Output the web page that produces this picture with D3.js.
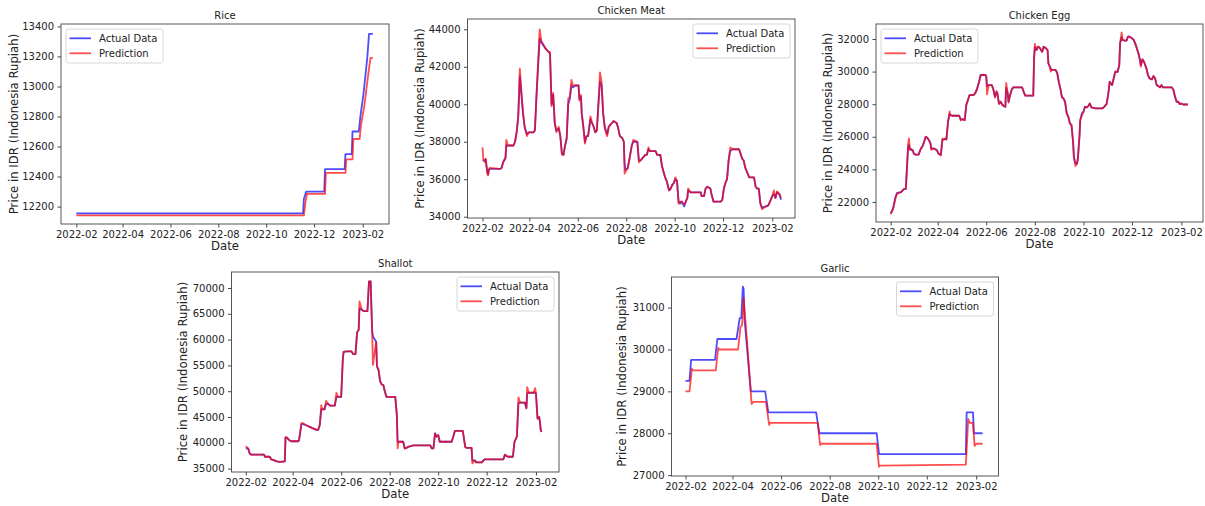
<!DOCTYPE html>
<html>
<head>
<meta charset="utf-8">
<script src="https://cdn.jsdelivr.net/npm/d3@7"></script>
<style>
  body { margin: 0; background: #fff; }
  svg { display: block; font-family: "DejaVu Sans", sans-serif; }
  .tick text { font-family: "DejaVu Sans", sans-serif; font-size: 10px; fill: #222; }
  .tick line { stroke: #333; stroke-width: 0.9; }
</style>
</head>
<body>
<svg id="chart" width="1205" height="506"></svg>
<script>
// daily series start at 2022-02-01, x values below are day offsets from that date
var startDate = Date.UTC(2022, 1, 1);

var xTickLabels = ['2022-02', '2022-04', '2022-06', '2022-08', '2022-10', '2022-12', '2023-02'];
var seriesNames = ['Actual Data', 'Prediction'];

// ---- Rice
var riceTicks = [12200, 12400, 12600, 12800, 13000, 13200, 13400];
var riceActualDays = [0, 289, 290, 293, 316, 317, 342, 343, 351, 352, 360, 362, 366, 368, 371, 373, 378];
var riceActual = [12155, 12155, 12250, 12300, 12300, 12450, 12450, 12550, 12550, 12700, 12700, 12800, 12950, 13050, 13200, 13350, 13350];
var ricePredDays = [0, 290, 292, 294, 317, 318, 343, 344, 352, 353, 361, 363, 367, 369, 372, 375, 378];
var ricePred = [12142, 12142, 12230, 12285, 12285, 12425, 12425, 12515, 12515, 12650, 12650, 12750, 12870, 12950, 13080, 13190, 13190];

// ---- Chicken Meat
var meatTicks = [34000, 36000, 38000, 40000, 42000, 44000];
var meatDays = [0, 1, 3, 4, 6, 7, 8, 9, 22, 24, 26, 29, 30, 32, 39, 41, 43, 45, 47, 49,
  51, 53, 56, 58, 64, 66, 68, 70, 72, 74, 79, 83, 85, 87, 89, 91, 93, 96, 98, 100,
  102, 104, 106, 108, 110, 112, 114, 117, 121, 122, 124, 125, 127, 129, 131, 133, 136, 138, 140, 142,
  144, 146, 148, 150, 152, 154, 157, 159, 161, 163, 165, 169, 171, 173, 176, 178, 179, 180, 183, 186,
  188, 190, 195, 197, 199, 201, 205, 207, 209, 211, 218, 220, 224, 226, 228, 230, 232, 235, 237, 239,
  241, 243, 245, 247, 249, 251, 254, 256, 258, 259, 262, 275, 276, 279, 281, 283, 287, 289, 291, 300,
  302, 304, 306, 308, 310, 312, 315, 323, 324, 327, 329, 331, 334, 336, 342, 344, 346, 348, 350, 352,
  357, 360, 363, 365, 367, 369, 371, 374, 376];
var meatActual = [37000, 37000, 37000, 37050, 36400, 36250, 36500, 36550, 36550, 36600, 36900, 37100, 37800, 37800, 37800, 38000, 38500, 39300, 41500, 40500,
  39500, 38800, 38400, 38500, 38500, 38600, 40500, 42000, 43500, 43300, 43000, 42800, 42700, 40000, 40500, 39000, 38600, 38700, 38300, 37400,
  37300, 37800, 38200, 40000, 40300, 41000, 40900, 41000, 41000, 40300, 40400, 39500, 38800, 38000, 38300, 38300, 39200, 39000, 38800, 38500,
  38600, 40000, 41200, 41000, 39500, 38800, 38400, 38800, 38900, 39000, 39100, 39000, 38700, 38300, 38200, 38000, 36800, 36500, 36600, 37300,
  37800, 38000, 38000, 37000, 37000, 37100, 37300, 37300, 37600, 37500, 37500, 37300, 37300, 36700, 36400, 36100, 35900, 35400, 35500, 35700,
  35800, 36000, 35900, 34800, 34700, 34800, 34550, 34800, 35000, 35400, 35300, 35300, 35100, 35100, 35500, 35600, 35500, 35100, 34800, 34800,
  34900, 35500, 35800, 36000, 37000, 37500, 37600, 37600, 37500, 37100, 37000, 36600, 36300, 36100, 36100, 35600, 35500, 35500, 34700, 34500,
  34550, 34600, 34900, 35100, 35200, 35000, 35300, 35200, 34900];
var meatPred = [37700, 37100, 36900, 37100, 36300, 36200, 36500, 36600, 36550, 36600, 36900, 37200, 38100, 37800, 37800, 38000, 38500, 39400, 41900, 40700,
  39600, 38800, 38300, 38500, 38500, 38600, 40400, 42200, 44000, 43400, 43000, 42800, 42800, 39900, 40600, 39000, 38500, 38800, 38300, 37300,
  37300, 37800, 38100, 40300, 40400, 41300, 41000, 41000, 41000, 40200, 40500, 39500, 38800, 37900, 38300, 38300, 39350, 39000, 38800, 38500,
  38600, 40000, 41700, 41200, 39500, 38700, 38300, 38800, 38900, 39000, 39100, 39000, 38700, 38300, 38200, 38000, 36300, 36400, 36600, 37300,
  37800, 38100, 38000, 36900, 37000, 37100, 37300, 37300, 37700, 37500, 37500, 37300, 37300, 36700, 36400, 36100, 35900, 35400, 35500, 35700,
  35800, 36100, 35900, 34700, 34800, 34800, 34650, 34800, 35000, 35500, 35300, 35300, 35100, 35100, 35500, 35600, 35500, 35100, 34800, 34800,
  34900, 35500, 35800, 36000, 37000, 37700, 37600, 37600, 37500, 37100, 37000, 36600, 36300, 36100, 36100, 35600, 35500, 35500, 34700, 34400,
  34550, 34600, 34900, 35100, 35400, 35000, 35350, 35200, 35000];

// ---- Chicken Egg
var eggTicks = [22000, 24000, 26000, 28000, 30000, 32000];
var eggDays = [0, 3, 6, 8, 13, 17, 19, 20, 22, 23, 24, 26, 28, 29, 31, 35, 38, 40, 42, 44,
  46, 48, 50, 51, 54, 58, 60, 63, 65, 67, 69, 70, 72, 74, 75, 77, 81, 86, 88, 90,
  93, 95, 97, 99, 101, 104, 106, 108, 111, 113, 119, 120, 121, 123, 127, 129, 131, 133, 134, 136,
  138, 140, 142, 144, 145, 147, 148, 150, 152, 154, 165, 167, 169, 171, 179, 180, 181, 183, 185, 187,
  190, 191, 192, 195, 197, 198, 199, 201, 202, 207, 209, 211, 213, 215, 217, 219, 221, 223, 225, 227,
  229, 230, 232, 234, 235, 237, 238, 240, 242, 244, 246, 248, 250, 252, 257, 261, 266, 268, 271, 273,
  275, 277, 278, 281, 282, 285, 287, 288, 290, 291, 294, 296, 298, 300, 303, 305, 307, 309, 311, 313,
  314, 316, 318, 321, 323, 325, 328, 330, 332, 334, 336, 338, 340, 342, 344, 353, 355, 357, 359, 361,
  363, 365, 367, 373];
var eggActual = [21300, 21600, 22300, 22550, 22600, 22800, 22800, 23740, 25400, 25500, 25280, 25180, 25180, 24970, 24900, 24900, 25280, 25420, 25690, 26000,
  25940, 25790, 25590, 25280, 25280, 25180, 24970, 24900, 25790, 25830, 25900, 25830, 26920, 27400, 27330, 27290, 27290, 27290, 27060, 27080,
  27020, 27940, 28250, 28560, 28560, 28560, 28660, 28870, 29380, 29790, 29790, 29730, 29100, 29170, 29170, 28900, 28450, 28760, 28660, 28040,
  28150, 27980, 27880, 27840, 29000, 28660, 28150, 28560, 28900, 29030, 29030, 28760, 28520, 28520, 28520, 30810, 31500, 31320, 31530, 31470,
  31220, 31320, 31530, 31430, 31320, 30500, 30400, 30200, 30100, 30100, 29930, 29380, 28970, 28450, 28350, 28150, 27430, 27230, 26820, 26710,
  25690, 24770, 24360, 24360, 24660, 26000, 27020, 27430, 27530, 27840, 27800, 27880, 28040, 27800, 27740, 27740, 27740, 27840, 28000, 28560,
  29380, 29230, 29170, 29790, 29990, 29990, 30400, 31730, 32100, 31940, 31900, 31900, 32140, 32140, 32040, 31940, 31730, 31430, 31120, 30710,
  30400, 30750, 30600, 30200, 29790, 29580, 29520, 29730, 29580, 29170, 29110, 29030, 29170, 29030, 29030, 29030, 28870, 28450, 28150, 28150,
  28000, 28040, 27980, 27980];
var eggPred = [21250, 21550, 22200, 22500, 22600, 22800, 22800, 23600, 25600, 25900, 25200, 25250, 25100, 24970, 24900, 24900, 25280, 25420, 25690, 26000,
  25940, 25790, 25590, 25200, 25280, 25180, 24970, 24850, 25900, 25830, 25900, 25830, 26900, 27550, 27330, 27290, 27290, 27290, 27000, 27080,
  27020, 28000, 28250, 28560, 28560, 28560, 28660, 28870, 29380, 29790, 29790, 29730, 28600, 29170, 29170, 28900, 28400, 28800, 28660, 28000,
  28150, 27980, 27880, 27840, 29300, 28660, 28100, 28560, 28900, 29030, 29030, 28760, 28520, 28520, 28520, 30700, 31700, 31320, 31530, 31470,
  31220, 31320, 31530, 31430, 31320, 30500, 30400, 30000, 30100, 30100, 29930, 29380, 28970, 28400, 28350, 28100, 27430, 27230, 26820, 26710,
  25690, 24770, 24200, 24360, 24660, 26000, 27020, 27300, 27530, 27840, 27800, 27880, 28040, 27800, 27740, 27740, 27740, 27840, 28000, 28560,
  29380, 29230, 29170, 29790, 29990, 29990, 30400, 31730, 32400, 31940, 31900, 31900, 32140, 32140, 32040, 31940, 31730, 31430, 31120, 30710,
  30300, 30750, 30600, 30200, 29790, 29580, 29520, 29730, 29580, 29170, 29110, 29030, 29170, 29030, 29030, 29030, 28870, 28450, 28150, 28150,
  28000, 28040, 27980, 27980];

// ---- Shallot
var shallotTicks = [35000, 40000, 45000, 50000, 55000, 60000, 65000, 70000];
var shallotDays = [0, 2, 3, 5, 7, 18, 23, 24, 30, 32, 36, 39, 43, 49, 50, 52, 54, 57, 66, 67,
  70, 72, 76, 83, 89, 91, 93, 95, 96, 99, 101, 104, 106, 112, 114, 116, 120, 122, 123, 127,
  133, 135, 138, 140, 142, 143, 146, 148, 153, 155, 157, 159, 160, 164, 165, 167, 169, 171, 173, 175,
  177, 185, 188, 190, 191, 192, 198, 200, 202, 204, 211, 232, 234, 236, 238, 240, 242, 244, 248, 259,
  261, 263, 273, 276, 278, 284, 285, 288, 290, 297, 299, 301, 324, 326, 328, 330, 336, 338, 341, 343,
  345, 351, 353, 354, 356, 362, 364, 365, 367, 369, 370, 371, 372];
var shallotActual = [38900, 38900, 38900, 37900, 37700, 37700, 37700, 37300, 37300, 36800, 36600, 36400, 36300, 36400, 41000, 41000, 40600, 40300, 40300, 40500,
  43600, 43600, 43400, 42900, 42500, 42500, 43400, 46500, 46500, 46500, 47500, 47500, 47200, 47200, 48900, 48900, 48900, 56100, 57600, 57700,
  57700, 57200, 57200, 61400, 61900, 66000, 65800, 65500, 65500, 71300, 71300, 61600, 60600, 59600, 54800, 54100, 51900, 51300, 51200, 49900,
  48900, 48900, 48900, 45400, 40200, 40200, 40200, 38900, 39000, 39200, 39500, 39500, 38900, 38900, 41800, 41200, 41500, 40200, 40200, 40200,
  41200, 42300, 42300, 39200, 39000, 39000, 36600, 36600, 36200, 36200, 36600, 36800, 36800, 37700, 37400, 37300, 37300, 40200, 41200, 47600,
  47800, 47800, 46700, 49600, 49700, 49700, 49700, 49600, 44700, 45000, 44100, 42500, 42100];
var shallotPred = [39350, 39000, 38900, 37900, 37700, 37700, 37700, 37300, 37300, 36800, 36600, 36400, 36300, 36400, 41100, 41000, 40600, 40300, 40300, 40500,
  43800, 43800, 43400, 42900, 42500, 42500, 43400, 47300, 46500, 46500, 48100, 47500, 47200, 47200, 49700, 48900, 48900, 56100, 57600, 57700,
  57700, 57200, 57200, 61400, 61900, 67400, 65800, 65500, 65500, 71300, 71300, 61000, 55100, 59600, 54800, 54100, 51900, 51300, 51200, 49900,
  48900, 48900, 48900, 45400, 38900, 40200, 40200, 38900, 39000, 39200, 39500, 39500, 38900, 38900, 41800, 41200, 41500, 40200, 40200, 40200,
  41200, 42300, 42300, 39200, 39000, 39000, 36000, 36600, 36200, 36200, 36600, 36800, 36800, 37700, 37400, 37300, 37300, 40200, 41200, 48800,
  47800, 47800, 46700, 50800, 49700, 49700, 50600, 49600, 44700, 45000, 44100, 42500, 42100];

// ---- Garlic
var garlicTicks = [27000, 28000, 29000, 30000, 31000];
var garlicActualDays = [0, 5, 7, 37, 40, 64, 66, 68, 70, 72, 73, 74, 82, 100, 104, 164, 168, 240, 243, 352, 353, 361, 362, 373];
var garlicActual = [29250, 29250, 29750, 29750, 30250, 30250, 30500, 30750, 30750, 31500, 31450, 30750, 29000, 29000, 28500, 28500, 28000, 28000, 27500, 27500, 28500, 28500, 28000, 28000];
var garlicPredDays = [0, 5, 8, 10, 38, 41, 42, 66, 69, 71, 73, 77, 83, 85, 101, 105, 106, 166, 169, 170, 240, 243, 244, 352, 355, 357, 361, 363, 365, 373];
var garlicPred = [29000, 29000, 29540, 29500, 29500, 30040, 30000, 30000, 30540, 30580, 31220, 30260, 28700, 28750, 28750, 28200, 28250, 28250, 27720, 27750, 27750, 27200, 27230, 27250, 28340, 28250, 28250, 27700, 27750, 27750];

function dayToDate(d) {
    return new Date(startDate + d * 864e5);
}

function zipSeries(days, values) {
    return days.map(function(d, i) { return [dayToDate(d), values[i]]; });
}

// panel layout (pixel boxes and axis limits)
var panels = [
    { title: 'Rice', left: 61, right: 389, top: 24, bottom: 224, xLim: [-19.5, 398.5], yLim: [12084, 13416],
      yTicks: riceTicks, yLabelX: 14, legend: 'left',
      actual: zipSeries(riceActualDays, riceActual), pred: zipSeries(ricePredDays, ricePred) },
    { title: 'Chicken Meat', left: 467.5, right: 795, top: 19, bottom: 218, xLim: [-18.9, 393.6], yLim: [33930, 44550],
      yTicks: meatTicks, yLabelX: 420, legend: 'right',
      actual: zipSeries(meatDays, meatActual), pred: zipSeries(meatDays, meatPred) },
    { title: 'Chicken Egg', left: 876, right: 1203, top: 24, bottom: 222, xLim: [-18.4, 392.1], yLim: [20770, 32920],
      yTicks: eggTicks, yLabelX: 828, legend: 'left',
      actual: zipSeries(eggDays, eggActual), pred: zipSeries(eggDays, eggPred) },
    { title: 'Shallot', left: 231.5, right: 559, top: 272, bottom: 472, xLim: [-18, 394], yLim: [34340, 73100],
      yTicks: shallotTicks, yLabelX: 183, legend: 'right',
      actual: zipSeries(shallotDays, shallotActual), pred: zipSeries(shallotDays, shallotPred) },
    { title: 'Garlic', left: 671.5, right: 998.5, top: 277, bottom: 476, xLim: [-17.6, 393], yLim: [26980, 31730],
      yTicks: garlicTicks, yLabelX: 622, legend: 'right',
      actual: zipSeries(garlicActualDays, garlicActual), pred: zipSeries(garlicPredDays, garlicPred) }
];

var colors = ['blue', 'red'];
var parseMonth = d3.utcParse('%Y-%m');
var xTickValues = xTickLabels.map(parseMonth);

var svg = d3.select('#chart');

function drawPanel(p) {
    var g = svg.append('g');

    var x = d3.scaleUtc()
        .domain([dayToDate(p.xLim[0]), dayToDate(p.xLim[1])])
        .range([p.left, p.right]);
    var y = d3.scaleLinear()
        .domain(p.yLim)
        .range([p.bottom, p.top]);

    // axes
    g.append('g')
        .attr('transform', `translate(0, ${p.bottom})`)
        .call(d3.axisBottom(x).tickValues(xTickValues).tickFormat(d3.utcFormat('%Y-%m')).tickSize(3.5).tickPadding(3.5))
        .call(function(a) { a.select('.domain').remove(); });

    g.append('g')
        .attr('transform', `translate(${p.left}, 0)`)
        .call(d3.axisLeft(y).tickValues(p.yTicks).tickFormat(d3.format('d')).tickSize(3.5).tickPadding(3.5))
        .call(function(a) { a.select('.domain').remove(); });

    // lines
    var line = d3.line()
        .x(function(d) { return x(d[0]); })
        .y(function(d) { return y(d[1]); });

    [p.actual, p.pred].forEach(function(s, i) {
        g.append('path')
            .datum(s)
            .attr('d', line)
            .attr('fill', 'none')
            .attr('stroke', colors[i])
            .attr('stroke-opacity', 0.7)
            .attr('stroke-width', 1.8)
            .attr('stroke-linejoin', 'round');
    });

    // frame
    g.append('rect')
        .attr('x', p.left).attr('y', p.top)
        .attr('width', p.right - p.left).attr('height', p.bottom - p.top)
        .attr('fill', 'none')
        .attr('stroke', '#444')
        .attr('stroke-width', 0.9);

    // title and labels
    g.append('text')
        .attr('x', (p.left + p.right) / 2).attr('y', p.top - 5)
        .attr('text-anchor', 'middle')
        .attr('font-size', 10).attr('fill', '#222')
        .text(p.title);

    g.append('text')
        .attr('x', (p.left + p.right) / 2).attr('y', p.bottom + 26)
        .attr('text-anchor', 'middle')
        .attr('font-size', 11.7).attr('fill', '#222')
        .text('Date');

    g.append('text')
        .attr('transform', `translate(${p.yLabelX + 4}, ${(p.top + p.bottom) / 2}) rotate(-90)`)
        .attr('text-anchor', 'middle')
        .attr('font-size', 11.7).attr('fill', '#222')
        .text('Price in IDR (Indonesia Rupiah)');

    // legend
    var lw = 97, lh = 34;
    var lx = p.legend === 'left' ? p.left + 5 : p.right - 5 - lw;
    var lg = g.append('g').attr('transform', `translate(${lx}, ${p.top + 5})`);
    lg.append('rect')
        .attr('width', lw).attr('height', lh).attr('rx', 2.5)
        .attr('fill', '#fff').attr('fill-opacity', 0.8)
        .attr('stroke', '#ccc').attr('stroke-width', 0.8);
    seriesNames.forEach(function(name, i) {
        var ly = 9.3 + i * 15;
        lg.append('line')
            .attr('x1', 3.5).attr('x2', 25).attr('y1', ly).attr('y2', ly)
            .attr('stroke', colors[i]).attr('stroke-opacity', 0.7).attr('stroke-width', 1.8);
        lg.append('text')
            .attr('x', 33).attr('y', ly + 3.6)
            .attr('font-size', 10).attr('fill', '#222')
            .text(name);
    });
}

panels.forEach(drawPanel);
</script>
</body>
</html>
